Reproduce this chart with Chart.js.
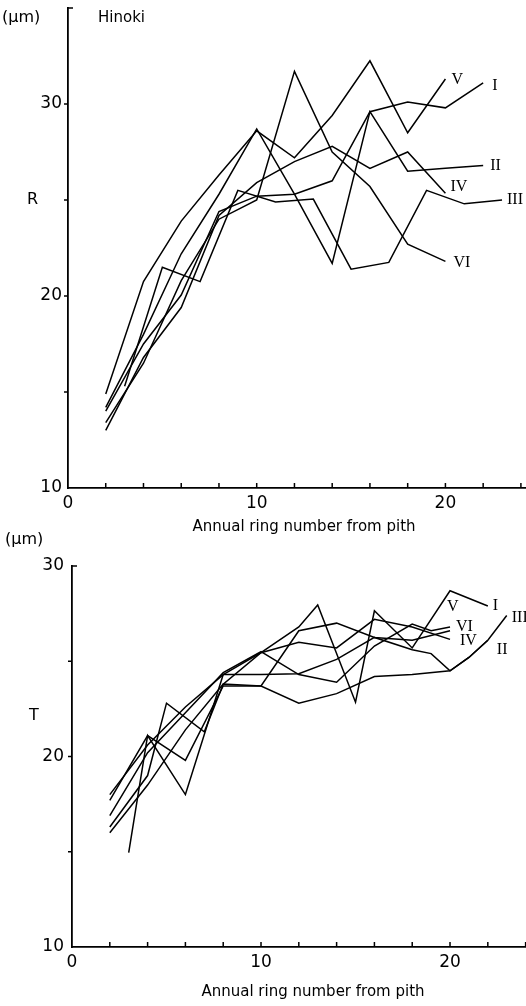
<!DOCTYPE html>
<html>
<head>
<meta charset="utf-8">
<script src="https://cdn.jsdelivr.net/npm/chart.js@4.4.1/dist/chart.umd.min.js"></script>
<style>
  html, body { margin: 0; padding: 0; background: #fff; }
  #wrap { position: relative; width: 526px; height: 1006px; }
  canvas { position: absolute; left: 0; top: 0; }
</style>
</head>
<body>
<div id="wrap">
  <canvas id="rChart" width="526" height="1006"></canvas>
  <canvas id="tChart" width="526" height="1006"></canvas>
</div>
<script>
// Radial (R) diameter per annual ring, Hinoki, trees I-VI
const rI_x   = [2, 4, 6, 8, 10, 12, 14, 16, 18, 20, 22];
const rI_y   = [14.0, 17.5, 20.05, 24.4, 25.2, 25.3, 26.0, 29.6, 30.1, 29.8, 31.1];
const rII_x  = [2, 4, 6, 8, 10, 12, 14, 16, 18, 20, 22];
const rII_y  = [14.2, 18.0, 22.2, 25.3, 28.7, 25.3, 21.7, 29.6, 26.5, 26.65, 26.8];
const rIII_x = [3, 5, 7, 9, 11, 13, 15, 17, 19, 21, 23];
const rIII_y = [15.3, 21.5, 20.75, 25.5, 24.9, 25.05, 21.4, 21.75, 25.5, 24.8, 25.0];
const rIV_x  = [2, 4, 6, 8, 10, 12, 14, 16, 18, 20];
const rIV_y  = [13.0, 16.8, 19.4, 24.2, 25.9, 27.0, 27.8, 26.65, 27.5, 25.35];
const rV_x   = [2, 4, 6, 8, 10, 12, 14, 16, 18, 20];
const rV_y   = [14.9, 20.75, 23.9, 26.3, 28.6, 27.2, 29.4, 32.25, 28.5, 31.3];
const rVI_x  = [2, 4, 6, 8, 10, 12, 14, 16, 18, 20];
const rVI_y  = [13.4, 16.5, 20.8, 24.0, 25.0, 31.7, 27.5, 25.7, 22.7, 21.8];

// Tangential (T) diameter per annual ring
const tI_x   = [2, 4, 6, 8, 10, 12, 13, 15, 16, 18, 20, 22];
const tI_y   = [18.0, 20.6, 22.6, 24.3, 25.45, 26.8, 27.95, 22.85, 27.65, 25.7, 28.7, 27.9];
const tII_x  = [2, 4, 6, 8, 10, 12, 14, 16, 18, 20, 21, 22];
const tII_y  = [16.0, 18.5, 21.4, 23.8, 23.7, 22.8, 23.3, 24.2, 24.3, 24.5, 25.2, 26.1];
const tIII_x = [3, 4, 6, 8, 10, 12, 14, 16, 18, 19, 20, 21, 22, 23];
const tIII_y = [14.95, 21.1, 18.0, 24.3, 24.3, 24.35, 25.1, 26.25, 25.6, 25.4, 24.5, 25.2, 26.1, 27.4];
const tIV_x  = [2, 4, 5, 7, 8, 10, 12, 14, 16, 18, 20];
const tIV_y  = [16.3, 19.0, 22.8, 21.3, 23.8, 25.45, 26.0, 25.7, 27.2, 26.8, 26.15];
const tV_x   = [2, 4, 6, 8, 10, 12, 14, 16, 18, 20];
const tV_y   = [17.7, 21.1, 19.8, 23.7, 23.7, 26.6, 27.0, 26.25, 26.1, 26.6];
const tVI_x  = [2, 4, 6, 8, 10, 12, 14, 16, 18, 19, 20];
const tVI_y  = [16.9, 20.2, 22.3, 24.4, 25.5, 24.3, 23.9, 25.8, 26.95, 26.6, 26.8];

const treeNames = ['I', 'II', 'III', 'IV', 'V', 'VI'];
const labeledTicks = [10, 20, 30];
const xLabeledTicks = [0, 10, 20];

// label offsets (px) from the last point of each line
const rTagOffsets = { I: [9, 3], II: [7, 0], III: [5, 0], IV: [5, -6], V: [6, 1], VI: [8, 1] };
const tTagOffsets = { I: [5, 0], II: [9, 10], III: [5, 2], IV: [10, 1], V: [-3, -24], VI: [6, 0] };

function pts(xs, ys) {
  return xs.map((x, i) => ({ x: x, y: ys[i] }));
}

function makeDatasets(series, offsets) {
  return series.map((s, i) => ({
    label: treeNames[i],
    data: pts(s[0], s[1]),
    borderColor: '#000',
    borderWidth: 1.5,
    pointRadius: 0,
    tension: 0,
    fill: false,
    tag: treeNames[i],
    tagOffset: offsets[treeNames[i]]
  }));
}

// tick marks, end tags and loose text
const decorations = {
  id: 'decorations',
  afterDraw(chart, args, opts) {
    const { ctx } = chart;
    const x = chart.scales.x, y = chart.scales.y;
    ctx.save();
    ctx.strokeStyle = '#000';
    ctx.lineWidth = 1.5;
    ctx.beginPath();
    x.ticks.forEach(t => {
      if (t.value <= x.min) return;
      const px = x.getPixelForValue(t.value);
      ctx.moveTo(px, y.bottom);
      ctx.lineTo(px, y.bottom - 5);
    });
    y.ticks.forEach(t => {
      if (t.value <= y.min || t.value >= y.max) return;
      const py = y.getPixelForValue(t.value);
      ctx.moveTo(x.left, py);
      ctx.lineTo(x.left - 4, py);
    });
    ctx.moveTo(x.left, y.top);
    ctx.lineTo(x.left + 5, y.top);
    ctx.stroke();

    // tree tags at line ends
    ctx.fillStyle = '#000';
    ctx.font = '16px "Liberation Serif", serif';
    ctx.textBaseline = 'middle';
    ctx.textAlign = 'left';
    chart.data.datasets.forEach(ds => {
      const last = ds.data[ds.data.length - 1];
      const px = x.getPixelForValue(last.x) + ds.tagOffset[0];
      const py = y.getPixelForValue(last.y) + ds.tagOffset[1];
      ctx.fillText(ds.tag, px, py);
    });

    (opts.notes || []).forEach(n => {
      ctx.font = n.font;
      ctx.textAlign = n.align || 'left';
      ctx.textBaseline = 'middle';
      ctx.fillText(n.text, n.x, n.y);
    });
    ctx.restore();
  }
};

function buildChart(canvasId, datasets, yMax, area, notes) {
  const ctx = document.getElementById(canvasId).getContext('2d');
  return new Chart(ctx, {
    type: 'line',
    data: { datasets: datasets },
    options: {
      responsive: false,
      animation: false,
      events: [],
      layout: { padding: { left: 0, right: 0, top: area.top, bottom: 0 } },
      plugins: {
        legend: { display: false },
        tooltip: { enabled: false },
        decorations: { notes: notes }
      },
      scales: {
        x: {
          type: 'linear',
          min: 0,
          max: area.xMax,
          grid: { display: false, drawTicks: false },
          border: { display: true, color: '#000', width: 1.8 },
          ticks: {
            stepSize: 2,
            includeBounds: false,
            autoSkip: false,
            maxRotation: 0,
            padding: 5,
            color: '#000',
            font: { family: '"DejaVu Sans", sans-serif', size: 17 },
            callback: v => xLabeledTicks.includes(v) ? String(v) : ''
          },
          afterFit(scale) {
            scale.height = 1006 - area.bottom;
            scale.paddingLeft = 0;
            scale.paddingRight = 0;
          }
        },
        y: {
          min: 10,
          max: yMax,
          grid: { display: false, drawTicks: false },
          border: { display: true, color: '#000', width: 1.8 },
          ticks: {
            stepSize: 5,
            autoSkip: false,
            padding: area.yPad,
            color: '#000',
            font: { family: '"DejaVu Sans", sans-serif', size: 17 },
            callback: v => labeledTicks.includes(v) ? String(v) : ''
          },
          afterFit(scale) {
            scale.width = area.left;
            scale.paddingTop = 0;
            scale.paddingBottom = 0;
          }
        }
      }
    },
    plugins: [decorations]
  });
}

Chart.defaults.color = '#000';

const rSeries = [[rI_x, rI_y], [rII_x, rII_y], [rIII_x, rIII_y], [rIV_x, rIV_y], [rV_x, rV_y], [rVI_x, rVI_y]];
const tSeries = [[tI_x, tI_y], [tII_x, tII_y], [tIII_x, tIII_y], [tIV_x, tIV_y], [tV_x, tV_y], [tVI_x, tVI_y]];

const axisFont = '15px "DejaVu Sans", sans-serif';
const unitFont = '16px "DejaVu Sans", sans-serif';

buildChart('rChart', makeDatasets(rSeries, rTagOffsets), 35,
  { top: 8, bottom: 488, left: 68, xMax: 24.27, yPad: 6 },
  [
    { text: '(\u03bcm)', x: 2, y: 18, font: unitFont },
    { text: 'Hinoki', x: 98, y: 18, font: axisFont },
    { text: 'R', x: 27, y: 200, font: unitFont },
    { text: 'Annual ring number from pith', x: 304, y: 527, font: axisFont, align: 'center' }
  ]);

buildChart('tChart', makeDatasets(tSeries, tTagOffsets), 30,
  { top: 566, bottom: 947, left: 72, xMax: 24.02, yPad: 8 },
  [
    { text: '(\u03bcm)', x: 5, y: 540, font: unitFont },
    { text: 'T', x: 29, y: 716, font: unitFont },
    { text: 'Annual ring number from pith', x: 313, y: 992, font: axisFont, align: 'center' }
  ]);
</script>
</body>
</html>
